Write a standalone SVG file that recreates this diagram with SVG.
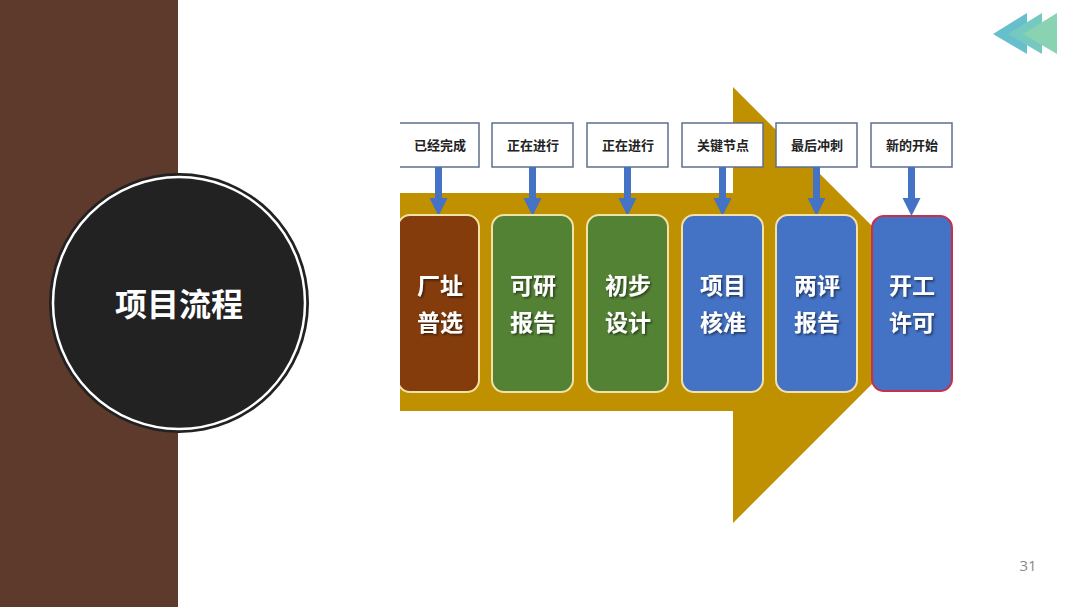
<svg xmlns="http://www.w3.org/2000/svg" width="1080" height="607" viewBox="0 0 1080 607">
<style>
.lbl{fill:#fff;stroke:#5F6F8C;stroke-width:1.5}
.lt{font-family:"Noto Sans CJK SC","Noto Sans",sans-serif;font-weight:bold;font-size:13px;fill:#222;text-anchor:middle}
.bt{font-family:"Noto Sans CJK SC","Noto Sans",sans-serif;font-weight:bold;font-size:23px;fill:#fff;text-anchor:middle;filter:url(#sh)}
.box{stroke:#F3E2A8;stroke-width:2}
.brown{fill:#843C0C}
.green{fill:#548235}
.blue{fill:#4472C4}
.conn{stroke:#4472C4;stroke-width:7;fill:none}
.ah{fill:#4472C4}
</style>
<defs>
<filter id="sh" x="-20%" y="-20%" width="140%" height="140%">
<feDropShadow dx="1.5" dy="1.5" stdDeviation="0.8" flood-color="#000" flood-opacity="0.55"/>
</filter>
<linearGradient id="lg" x1="0" y1="0" x2="1" y2="0">
<stop offset="0" stop-color="#62BCCB"/>
<stop offset="1" stop-color="#8DD5AF"/>
</linearGradient>
<clipPath id="cp"><rect x="400" y="0" width="553" height="607"/></clipPath>
</defs>
<rect width="1080" height="607" fill="#fff"/>
<rect x="0" y="0" width="178" height="607" fill="#5E3A2C"/>
<g id="title">
<circle cx="179" cy="303" r="130" fill="#222"/>
<circle cx="179" cy="303" r="126" fill="none" stroke="#fff" stroke-width="2.5"/>
<text x="179" y="316" font-family="'Noto Sans CJK SC','Noto Sans',sans-serif" font-weight="bold" font-size="32" fill="#fff" text-anchor="middle">项目流程</text>
</g>
<g id="logo">
<polygon points="993,34 1027,13 1027,54" fill="#66BFCA"/>
<polygon points="1008,34 1042,13 1042,54" fill="#76C9C0"/>
<polygon points="1023,34 1057,13 1057,54" fill="#89D3B2"/>
</g>
<g clip-path="url(#cp)">
<polygon id="bigarrow" points="398,193 733,193 733,87 951,305 733,523 733,411 398,411" fill="#BF9000"/>
<g id="labels">
<rect class="lbl" x="398" y="123" width="81" height="44"/>
<text class="lt" x="440" y="150">已经完成</text>
<rect class="lbl" x="492" y="123" width="81" height="44"/>
<text class="lt" x="533" y="150">正在进行</text>
<rect class="lbl" x="587" y="123" width="81" height="44"/>
<text class="lt" x="628" y="150">正在进行</text>
<rect class="lbl" x="682" y="123" width="81" height="44"/>
<text class="lt" x="723" y="150">关键节点</text>
<rect class="lbl" x="776" y="123" width="81" height="44"/>
<text class="lt" x="817" y="150">最后冲刺</text>
<rect class="lbl" x="871" y="123" width="81" height="44"/>
<text class="lt" x="912" y="150">新的开始</text>
</g>
<g id="connectors">
<line class="conn" x1="438.5" y1="167" x2="438.5" y2="200"/><polygon class="ah" points="429.5,198 447.5,198 438.5,216"/>
<line class="conn" x1="532.5" y1="167" x2="532.5" y2="200"/><polygon class="ah" points="523.5,198 541.5,198 532.5,216"/>
<line class="conn" x1="627.5" y1="167" x2="627.5" y2="200"/><polygon class="ah" points="618.5,198 636.5,198 627.5,216"/>
<line class="conn" x1="722.5" y1="167" x2="722.5" y2="200"/><polygon class="ah" points="713.5,198 731.5,198 722.5,216"/>
<line class="conn" x1="816.5" y1="167" x2="816.5" y2="200"/><polygon class="ah" points="807.5,198 825.5,198 816.5,216"/>
<line class="conn" x1="911.5" y1="167" x2="911.5" y2="200"/><polygon class="ah" points="902.5,198 920.5,198 911.5,216"/>
</g>
<g id="n1"><rect class="box brown" x="398" y="215" width="81" height="177" rx="12"/><text class="bt" x="440" y="294">厂址</text><text class="bt" x="440" y="331">普选</text></g>
<g id="n2"><rect class="box green" x="492" y="215" width="81" height="177" rx="12"/><text class="bt" x="533" y="294">可研</text><text class="bt" x="533" y="331">报告</text></g>
<g id="n3"><rect class="box green" x="587" y="215" width="81" height="177" rx="12"/><text class="bt" x="628" y="294">初步</text><text class="bt" x="628" y="331">设计</text></g>
<g id="n4"><rect class="box blue" x="682" y="215" width="81" height="177" rx="12"/><text class="bt" x="723" y="294">项目</text><text class="bt" x="723" y="331">核准</text></g>
<g id="n5"><rect class="box blue" x="776" y="215" width="81" height="177" rx="12"/><text class="bt" x="817" y="294">两评</text><text class="bt" x="817" y="331">报告</text></g>
<g id="n6"><rect class="blue" x="872" y="216" width="80" height="175" rx="12" stroke="#C8304A" stroke-width="2"/><text class="bt" x="912" y="294">开工</text><text class="bt" x="912" y="331">许可</text></g>
</g>
<text x="1028" y="571" font-family="'Open Sans','Liberation Sans',sans-serif" font-size="15" fill="#8A8A8A" text-anchor="middle">31</text>
</svg>
